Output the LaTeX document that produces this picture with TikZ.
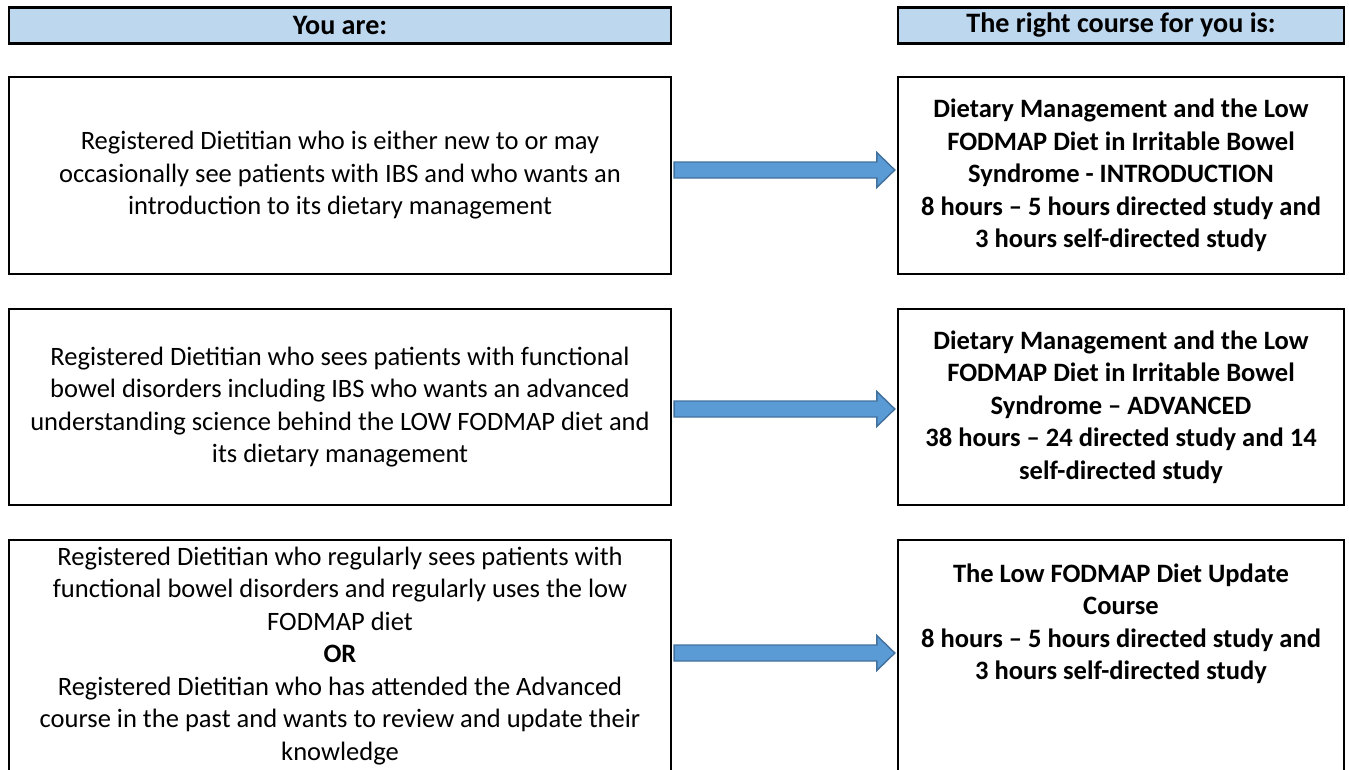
\documentclass[tikz,border=0pt]{standalone}
\usepackage{fontspec}
\setmainfont{Carlito}
\usetikzlibrary{calc}

\definecolor{headblue}{HTML}{BDD7EE}
\definecolor{arrowfill}{HTML}{5B9BD5}
\definecolor{arrowline}{HTML}{41719C}

\tikzset{
  box/.style={draw=black, line width=1.4pt, inner sep=0pt, align=center,
    font=\fontsize{15.1}{18.5}\selectfont},
  youbox/.style={box, minimum width=13.24cm},
  coursebox/.style={box, minimum width=8.92cm, font=\fontsize{15.1}{18.5}\selectfont\bfseries},
  headbox/.style={box, fill=headblue, minimum height=0.72cm, font=\fontsize{16}{20}\selectfont\bfseries},
  bluearrow/.style={fill=arrowfill, draw=arrowline, line width=0.8pt, line join=miter}
}

\newcommand{\BlockArrow}[3]{%
  \coordinate (s) at ($(#1.east |- 0,#3)+(2,0)$);
  \coordinate (t) at ($(#2.west |- 0,#3)+(-2,0)$);
  \draw[bluearrow] ($(s)+(0,-8)$) -- ($(t)+(-18,-8)$) -- ($(t)+(-18,-17.5)$) -- (t)
    -- ($(t)+(-18,17.5)$) -- ($(t)+(-18,8)$) -- ($(s)+(0,8)$) -- cycle;
}

\begin{document}
\begin{tikzpicture}[x=0.02cm, y=-0.02cm]

\useasboundingbox (0,0) rectangle (1349,769);
\clip (0,0) rectangle (1349,769);

\node[headbox, minimum width=13.24cm] (youhead) at (340,25.5) {You are:};
\node[headbox, minimum width=8.92cm] (coursehead) at (1121,25.5) {The right course for you is:};

\node[youbox, minimum height=3.94cm] (you1) at (340,175.5)
  {Registered Dietitian who is either new to or may\\
   occasionally see patients with IBS and who wants an\\
   introduction to its dietary management};
\node[coursebox, minimum height=3.94cm] (course1) at (1121,175.5)
  {Dietary Management and the Low\\
   FODMAP Diet in Irritable Bowel\\
   Syndrome - INTRODUCTION\\
   8 hours – 5 hours directed study and\\
   3 hours self-directed study};

\node[youbox, minimum height=3.92cm] (you2) at (340,407)
  {Registered Dietitian who sees patients with functional\\
   bowel disorders including IBS who wants an advanced\\
   understanding science behind the LOW FODMAP diet and\\
   its dietary management};
\node[coursebox, minimum height=3.92cm] (course2) at (1121,407)
  {Dietary Management and the Low\\
   FODMAP Diet in Irritable Bowel\\
   Syndrome – ADVANCED\\
   38 hours – 24 directed study and 14\\
   self-directed study};

\node[youbox, minimum height=4.64cm] (you3) at (340,656)
  {Registered Dietitian who regularly sees patients with\\
   functional bowel disorders and regularly uses the low\\
   FODMAP diet\\
   \textbf{OR}\\
   Registered Dietitian who has attended the Advanced\\
   course in the past and wants to review and update their\\
   knowledge};
\node[coursebox, minimum height=4.64cm] (course3) at (1121,656) {};
\node[font=\fontsize{15.1}{18.5}\selectfont\bfseries, align=center] (course3text) at (1121,624)
  {The Low FODMAP Diet Update\\
   Course\\
   8 hours – 5 hours directed study and\\
   3 hours self-directed study};

\BlockArrow{you1}{course1}{170}
\BlockArrow{you2}{course2}{409}
\BlockArrow{you3}{course3}{653}

\end{tikzpicture}
\end{document}
